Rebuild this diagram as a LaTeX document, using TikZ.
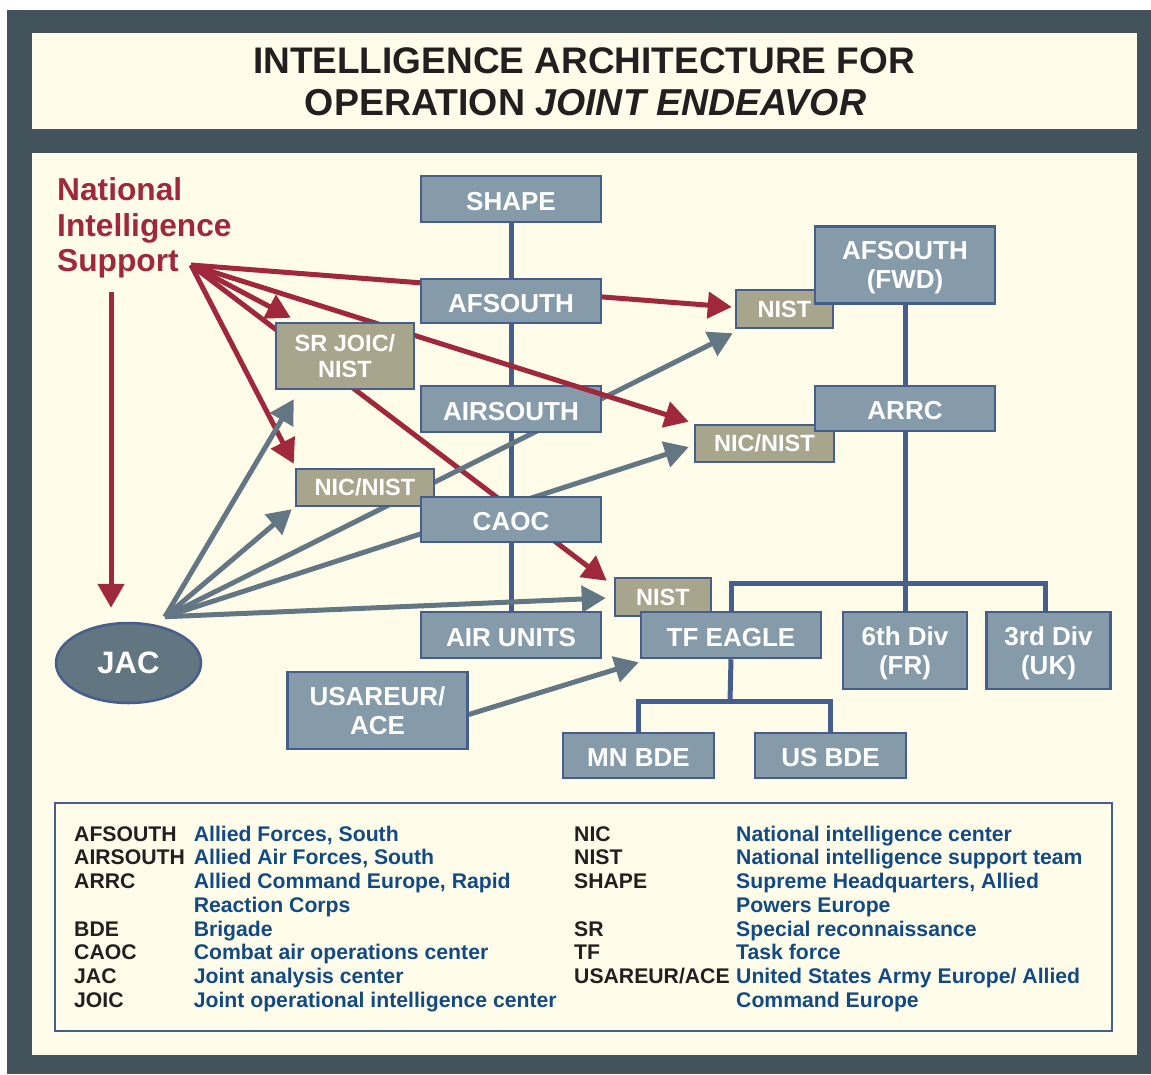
\documentclass[tikz,border=0pt]{standalone}
\usepackage{fontspec}
\setmainfont{Liberation Sans}
\usetikzlibrary{arrows.meta,calc,shapes.geometric}
\definecolor{framec}{RGB}{66,83,92}
\definecolor{cream}{RGB}{255,253,233}
\definecolor{boxc}{RGB}{133,155,170}
\definecolor{bordc}{RGB}{69,94,140}
\definecolor{tanc}{RGB}{168,165,141}
\definecolor{redc}{RGB}{160,40,60}
\definecolor{grayc}{RGB}{98,119,131}
\definecolor{jacc}{RGB}{98,118,130}
\definecolor{inkc}{RGB}{35,31,32}
\definecolor{defc}{RGB}{18,74,134}
\pgfdeclarelayer{bg}\pgfdeclarelayer{low}\pgfsetlayers{bg,low,main}
\newcommand\lgrowL[2]{\makebox[119.6pt][l]{\color{inkc}#1}{\color{defc}#2}}
\newcommand\lgrowR[2]{\makebox[162pt][l]{\color{inkc}#1}{\color{defc}#2}}
\begin{document}
\begin{tikzpicture}[x=1pt,y=-1pt,
 bbox/.style={draw=bordc,line width=2.5pt,fill=boxc,text=white,inner sep=0pt,align=center,font=\bfseries\fontsize{26}{29}\selectfont},
 tbox/.style={draw=bordc,line width=2.5pt,fill=tanc,text=white,inner sep=0pt,align=center,font=\bfseries\fontsize{23.5}{26}\selectfont},
 oneline/.style={text height=22.6pt,text depth=0pt},
 twoline/.style={text depth=0pt},
 tree/.style={draw=bordc,line width=5pt},
 redarr/.style={draw=redc,line width=5pt,-{Triangle[length=24pt,width=26pt]}},
 grayarr/.style={draw=grayc,line width=5pt,-{Triangle[length=24pt,width=26pt]}},
 legtxt/.style={anchor=north west,inner sep=0pt,align=left,font=\bfseries\fontsize{21.2}{23.75}\selectfont}
]
\useasboundingbox (0,0) rectangle (1151,1074);
\begin{pgfonlayer}{bg}
\fill[framec] (7,10) rectangle (1151,1074);
\fill[cream] (32,33) rectangle (1137,129);
\fill[cream] (32,153) rectangle (1137,1055);
\end{pgfonlayer}

% title
\node[anchor=base,inner sep=0pt,text=inkc,font=\bfseries\fontsize{37}{42}\selectfont] (title1) at (584,73) {INTELLIGENCE ARCHITECTURE FOR};
\node[anchor=base,inner sep=0pt,text=inkc,font=\bfseries\fontsize{37.5}{42}\selectfont] (title2) at (585.5,115) {OPERATION \textit{JOINT ENDEAVOR}};

% national intelligence support
\node[anchor=north west,inner sep=0pt,align=left,text=redc,font=\bfseries\fontsize{31.7}{35.5}\selectfont] (nis) at (57,177.5) {National\\Intelligence\\Support};
\coordinate (nisPt) at (191,265);
\coordinate (nisDn) at (111,292);

% tan boxes
\node[tbox,minimum width=97pt,minimum height=38pt] (nistA) at (784.5,309) {NIST};
\node[tbox,minimum width=139pt,minimum height=37pt] (nicB) at (764.5,443.5) {NIC/NIST};
\node[tbox,minimum width=138pt,minimum height=37pt] (nicA) at (365,487.5) {NIC/NIST};
\node[tbox,minimum width=96pt,minimum height=38pt] (nistC) at (663,597) {NIST};

% blue boxes
\node[bbox,oneline,minimum width=180pt,minimum height=46pt] (shape) at (511,199) {SHAPE};
\node[bbox,oneline,minimum width=180pt,minimum height=44pt] (afs) at (511,301) {AFSOUTH};
\node[bbox,oneline,minimum width=180pt,minimum height=46pt] (airs) at (511,409) {AIRSOUTH};
\node[bbox,oneline,minimum width=180pt,minimum height=45pt] (caoc) at (511,519.5) {CAOC};
\node[bbox,oneline,minimum width=180pt,minimum height=46pt] (airu) at (511,635) {AIR UNITS};
\node[bbox,twoline,minimum width=180pt,minimum height=77pt] (afsf) at (905,265) {AFSOUTH\\(FWD)};
\node[bbox,oneline,minimum width=180pt,minimum height=45pt] (arrc) at (905,408.5) {ARRC};
\node[bbox,oneline,minimum width=180pt,minimum height=46pt] (tfe) at (731,635) {TF EAGLE};
\node[bbox,twoline,minimum width=124pt,minimum height=77pt] (div6) at (905,650.5) {6th Div\\(FR)};
\node[bbox,twoline,minimum width=124pt,minimum height=77pt] (div3) at (1048.5,650.5) {3rd Div\\(UK)};
\node[bbox,oneline,minimum width=151pt,minimum height=45pt] (mnb) at (638.5,755.5) {MN BDE};
\node[bbox,oneline,minimum width=151pt,minimum height=45pt] (usb) at (830.5,755.5) {US BDE};
\node[bbox,twoline,minimum width=180pt,minimum height=77pt] (usa) at (377.5,710.5) {USAREUR/\\ACE};
\node[ellipse,draw=bordc,line width=2.5pt,fill=jacc,text=white,inner sep=0pt,minimum width=145pt,minimum height=80pt,font=\bfseries\fontsize{31}{34}\selectfont] (jac) at (128.5,663) {JAC};
\coordinate (jacPt) at ($(jac.north)+(36.5,-5)$);

% arrow over AIRSOUTH, under SR JOIC
\draw[redarr] (nisPt) -- ($(nicB.north west)+(-5,-2)$);
\node[tbox,twoline,minimum width=138pt,minimum height=66pt] (srj) at (345,356) {SR JOIC/\\NIST};

% tree lines
\coordinate (bar) at (905,583);
\coordinate (bar2) at (730,701);
\begin{pgfonlayer}{bg}
\draw[tree] (shape.south) -- (airu.north);
\draw[tree] (afsf.south) -- (arrc.north);
\draw[tree] (arrc.south) -- (div6.north);
\draw[tree] (tfe.north) |- (bar) -| ([xshift=-3.5pt]div3.north);
\draw[tree] (tfe.south) -- (bar2);
\draw[tree] (mnb.north) |- (bar2) -| (usb.north);
\end{pgfonlayer}

% arrows behind boxes
\begin{pgfonlayer}{low}
\draw[redarr] (nisPt) -- ($(nistA.west)+(-3,-2)$);
\draw[redarr] (nisPt) -- ($(srj.north west)+(16,-4)$);
\draw[redarr] (nisPt) -- ($(nistC.north west)+(-7,4)$);
\draw[redarr] (nisPt) -- ($(nicA.north west)+(-1,-4)$);
\draw[redarr] (nisDn) -- ($(jac.north)+(-17.5,-14)$);
\draw[grayarr] (jacPt) -- ($(srj.south west)+(19,9)$);
\draw[grayarr] (jacPt) -- ($(nicA.south west)+(-3,2)$);
\draw[grayarr] (jacPt) -- ($(nistA.south west)+(-2,4)$);
\draw[grayarr] (jacPt) -- ($(nicB.west)+(-5,3.5)$);
\draw[grayarr] (jacPt) -- ($(nistC.west)+(-8,1)$);
\draw[grayarr] ($(usa.east)+(0,4)$) -- ($(tfe.south west)+(-1,3)$);
\end{pgfonlayer}

% legend
\node[draw=bordc,line width=2pt,fill=cream,minimum width=1057pt,minimum height=228pt,inner sep=0pt] (legend) at (583.5,917) {};
\node[legtxt] (legL) at (74,825.5) {%
\lgrowL{AFSOUTH}{Allied Forces, South}\\
\lgrowL{AIRSOUTH}{Allied Air Forces, South}\\
\lgrowL{ARRC}{Allied Command Europe, Rapid}\\
\lgrowL{}{Reaction Corps}\\
\lgrowL{BDE}{Brigade}\\
\lgrowL{CAOC}{Combat air operations center}\\
\lgrowL{JAC}{Joint analysis center}\\
\lgrowL{JOIC}{Joint operational intelligence center}};
\node[legtxt] (legR) at (574,825.5) {%
\lgrowR{NIC}{National intelligence center}\\
\lgrowR{NIST}{National intelligence support team}\\
\lgrowR{SHAPE}{Supreme Headquarters, Allied}\\
\lgrowR{}{Powers Europe}\\
\lgrowR{SR}{Special reconnaissance}\\
\lgrowR{TF}{Task force}\\
\lgrowR{USAREUR/ACE}{United States Army Europe/ Allied}\\
\lgrowR{}{Command Europe}};
\end{tikzpicture}
\end{document}
